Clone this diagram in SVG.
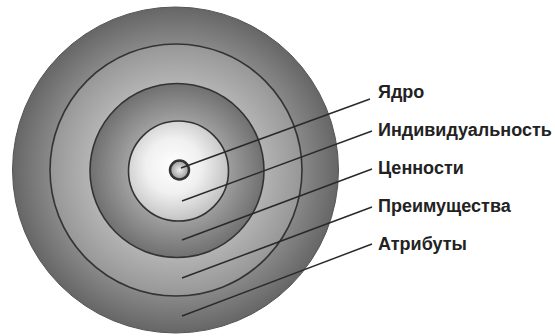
<svg xmlns="http://www.w3.org/2000/svg" width="555" height="336" viewBox="0 0 555 336">
<defs>
<radialGradient id="g1" cx="0.5" cy="0.5" r="0.5">
<stop offset="0" stop-color="#d8d8d8"/>
<stop offset="0.75" stop-color="#8c8c8c"/>
<stop offset="1" stop-color="#666"/>
</radialGradient>
<radialGradient id="g2" cx="0.5" cy="0.5" r="0.5">
<stop offset="0" stop-color="#e8e8e8"/>
<stop offset="0.68" stop-color="#b4b4b4"/>
<stop offset="1" stop-color="#979797"/>
</radialGradient>
<radialGradient id="g3" cx="0.5" cy="0.5" r="0.5">
<stop offset="0" stop-color="#d0d0d0"/>
<stop offset="0.57" stop-color="#a0a0a0"/>
<stop offset="1" stop-color="#707070"/>
</radialGradient>
<radialGradient id="g4" cx="0.45" cy="0.45" r="0.55">
<stop offset="0" stop-color="#ffffff"/>
<stop offset="0.5" stop-color="#f0f0f0"/>
<stop offset="1" stop-color="#c4c4c4"/>
</radialGradient>
<radialGradient id="g5" cx="0.5" cy="0.5" r="0.5">
<stop offset="0" stop-color="#eee"/>
<stop offset="1" stop-color="#999"/>
</radialGradient>
<style>
.ring{stroke:#333;stroke-width:1.6}
.lbl{font-family:"Liberation Sans",Arial,sans-serif;font-size:18px;font-weight:bold;fill:#222}
.con line{stroke:#2a2a2a;stroke-width:1.5}
</style>
</defs>
<g id="attributes"><circle cx="175.5" cy="170" r="163" fill="url(#g1)" stroke="#555" stroke-width="1"/></g>
<g id="benefits"><circle class="ring" cx="176" cy="170" r="126" fill="url(#g2)"/></g>
<g id="values"><circle class="ring" cx="177" cy="170.5" r="87" fill="url(#g3)"/></g>
<g id="individuality"><circle class="ring" cx="178.5" cy="171" r="50" fill="url(#g4)"/></g>
<g id="core"><circle cx="179.5" cy="170" r="9.5" fill="url(#g5)" stroke="#333" stroke-width="2.5"/></g>
<g id="connectors" class="con">
<line x1="181" y1="168" x2="370" y2="99"/>
<line x1="182" y1="201" x2="372" y2="131"/>
<line x1="182" y1="240" x2="372" y2="169"/>
<line x1="182" y1="278" x2="372" y2="207"/>
<line x1="182" y1="316" x2="372" y2="244"/>
</g>
<g id="labels">
<text class="lbl" x="378" y="98">Ядро</text>
<text class="lbl" x="378" y="136">Индивидуальность</text>
<text class="lbl" x="378" y="174">Ценности</text>
<text class="lbl" x="378" y="212">Преимущества</text>
<text class="lbl" x="378" y="250">Атрибуты</text>
</g>
</svg>
